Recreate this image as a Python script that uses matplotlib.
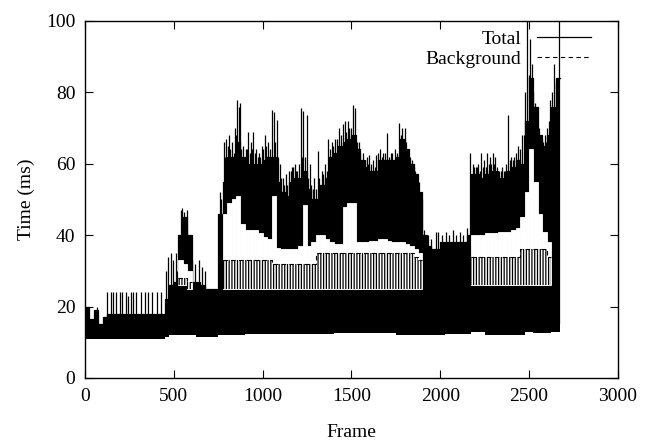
import numpy as np
import matplotlib
matplotlib.use("Agg")
import matplotlib.pyplot as plt

plt.rcParams['font.family'] = ['Liberation Serif', 'DejaVu Serif']
plt.rcParams['hatch.color'] = 'black'
plt.rcParams['hatch.linewidth'] = 0.9

# ---- data (25-frame blocks) ----
block_start = [0, 25, 50, 75, 100, 125, 150, 175, 200, 225, 250, 275, 300, 325, 350, 375, 400, 425,
               450, 475, 500, 525, 550, 575, 600, 625, 650, 675, 700, 725, 750, 775, 800, 825, 850, 875,
               900, 925, 950, 975, 1000, 1025, 1050, 1075, 1100, 1125, 1150, 1175, 1200, 1225, 1250, 1275,
               1300, 1325, 1350, 1375, 1400, 1425, 1450, 1475, 1500, 1525, 1550, 1575, 1600, 1625, 1650,
               1675, 1700, 1725, 1750, 1775, 1800, 1825, 1850, 1875, 1900, 1925, 1950, 1975, 2000, 2025,
               2050, 2075, 2100, 2125, 2150, 2175, 2200, 2225, 2250, 2275, 2300, 2325, 2350, 2375, 2400,
               2425, 2450, 2475, 2500, 2525, 2550, 2575, 2600, 2625, 2650]
last_frame = 2673

total_floor = [10.9, 10.9, 10.9, 10.9, 10.9, 10.9, 10.9, 10.9, 10.9, 10.9, 10.9, 10.9, 10.9, 10.9, 10.9, 10.9, 10.9, 10.9,
               11.5, 12.0, 12.0, 12.0, 12.0, 12.0, 12.0, 11.6, 11.6, 11.6, 11.6, 11.6, 12.1, 12.1, 12.1, 12.1, 12.1, 12.1,
               12.4, 12.4, 12.4, 12.4, 12.4, 12.4, 12.4, 12.4, 12.4, 12.4, 12.4, 12.4, 12.4, 12.4, 12.4, 12.4,
               12.4, 12.4, 12.4, 12.4, 12.6, 12.6, 12.6, 12.6, 12.6, 12.6, 12.6, 12.6, 12.6, 12.6, 12.6,
               12.6, 12.6, 12.6, 12.0, 12.0, 12.0, 12.0, 12.0, 12.0, 12.0, 12.0, 12.0, 12.0, 12.0, 12.2,
               12.2, 12.2, 12.2, 12.2, 12.2, 12.9, 12.9, 12.9, 12.1, 12.1, 12.1, 12.1, 12.1, 12.1, 12.1,
               12.1, 12.1, 13.0, 13.0, 12.5, 12.5, 12.5, 12.5, 13.0, 13.0]

total_body = [20, 16.5, 19, 15, 17, 18, 18, 18, 18, 18, 18, 18, 18, 18, 18, 18, 18, 18,
              22, 26, 27, 40, 45, 40, 27, 27, 26, 25, 25, 25, 46, 55, 62, 62, 66, 62,
              58, 60, 60, 60, 61, 62, 62, 55, 52, 51, 55, 56, 56, 58, 53, 50,
              50, 54, 56, 62, 63, 65, 66, 67, 68, 64, 61, 59, 58, 58, 61,
              61, 61, 61, 62, 67, 64, 60, 57, 52, 40, 37, 36, 36, 38, 38,
              38, 38, 38, 38, 40, 57, 57, 56, 57, 58, 58, 56, 56, 58, 59,
              61, 60, 72, 84, 76, 68, 65, 68, 76, 84]

nan = float('nan')
# top of the solid lower band (where the white gap starts)
gap_low = [nan, nan, nan, nan, nan, nan, nan, nan, nan, nan, nan, nan, nan, nan, nan, nan, nan, nan,
           nan, nan, nan, 26, 26, 25, nan, nan, nan, nan, nan, nan, nan, 25, 25, 25, 25, 25,
           25, 25, 25, 25, 25, 25, 25, 25, 25, 25, 25, 25, 25, 25, 25, 25,
           25, 25, 25, 25, 25, 25, 25, 25, 25, 25, 25, 25, 25, 25, 25,
           25, 25, 25, 25, 25, 25, 25, 25, 25, nan, nan, nan, nan, nan, nan,
           nan, nan, nan, nan, nan, 26, 26, 26, 26, 26, 26, 26, 26, 26, 26,
           26, 26, 26, 26, 26, 26, 26, 26, nan, nan]
# top of the speckled background streaks inside the gap
background_top = [nan, nan, nan, nan, nan, nan, nan, nan, nan, nan, nan, nan, nan, nan, nan, nan, nan, nan,
                  nan, nan, nan, 28, 28, 27, nan, nan, nan, nan, nan, nan, nan, 33, 33, 33, 33, 33,
                  33, 33, 33, 33, 33, 33, 32, 32, 32, 32, 32, 32, 32, 32, 32, 32,
                  35, 35, 35, 35, 35, 35, 35, 35, 35, 35, 35, 35, 35, 35, 35,
                  35, 35, 35, 35, 35, 35, 35, 34, 33, nan, nan, nan, nan, nan, nan,
                  nan, nan, nan, nan, nan, 34, 34, 34, 34, 34, 34, 34, 34, 34, 34,
                  34, 36, 36, 36, 36, 36, 36, 34, nan, nan]
# lower edge of the upper band of the Total series
gap_high = [nan, nan, nan, nan, nan, nan, nan, nan, nan, nan, nan, nan, nan, nan, nan, nan, nan, nan,
            nan, nan, nan, 33, 32, 30, nan, nan, nan, nan, nan, nan, nan, 46, 49, 50, 51, 43,
            41.5, 41.5, 41.5, 40.5, 39.5, 39, 51, 36.5, 36, 36, 36, 36, 37, 48.5, 37, 38,
            40, 40, 39, 38, 37.5, 37.5, 48, 49, 49, 38, 38, 38, 38.5, 38.5, 39,
            39, 38.5, 38, 38, 38, 37.5, 37, 36, 35, nan, nan, nan, nan, nan, nan,
            nan, nan, nan, nan, nan, 40, 40, 40, 40.5, 40.5, 40.5, 41, 41, 41, 41.5,
            42, 45, 52, 64, 55, 46, 41, 38, nan, nan]

spike_frames = [65, 126, 144, 159, 176, 195, 210, 229, 244, 257, 272, 289, 313, 336, 354, 379, 403, 426,
                455, 470, 485, 497, 510, 520, 540, 548, 560, 572, 592, 605, 620, 640, 660, 675,
                758, 765, 785, 795, 810, 830, 845, 858, 866, 872, 888, 905, 919, 935, 947, 965, 980,
                994, 1012, 1030, 1051, 1063, 1079, 1095, 1112, 1130, 1150, 1163, 1180, 1195, 1214,
                1229, 1248, 1265, 1290, 1312, 1335, 1350, 1370, 1390, 1408, 1430, 1450, 1463, 1480,
                1495, 1508, 1520, 1540, 1565, 1585, 1600, 1620, 1640, 1660, 1680, 1700, 1720, 1745,
                1769, 1785, 1801, 1820, 1840, 1860, 1880, 1895, 1910, 1930, 1950, 1975, 1990, 2010,
                2030, 2050, 2070, 2090, 2110, 2130, 2148, 2165, 2185, 2200, 2215, 2230, 2245, 2265,
                2280, 2295, 2310, 2330, 2350, 2365, 2380, 2400, 2415, 2440, 2460, 2470, 2480, 2490,
                2498, 2505, 2515, 2525, 2535, 2550, 2565, 2580, 2595, 2610, 2625, 2640, 2650, 2668,
                # secondary (shorter) spikes along the ragged upper edge
                790, 803, 818, 838, 852, 880, 896, 912, 927, 941, 957, 972, 987, 1003, 1020, 1040,
                1070, 1088, 1104, 1120, 1138, 1157, 1172, 1188, 1205, 1222, 1240, 1257, 1273, 1282,
                1300, 1320, 1342, 1360, 1380, 1398, 1418, 1440, 1470, 1488, 1530, 1550, 1575, 1595,
                1610, 1630, 1650, 1670, 1690, 1710, 1730, 1755, 1777, 1810, 1830, 1850, 1870,
                2192, 2208, 2222, 2238, 2255, 2272, 2288, 2303, 2318, 2340, 2358, 2372, 2390, 2408,
                2425, 2450, 2545, 2558, 2572, 2588, 2603, 2618, 2632]
spike_values = [20, 24, 24, 24, 24, 24, 24, 24, 23, 24, 24, 24, 24, 24, 24, 24, 24, 24,
                30, 34, 35, 33, 35, 30, 47, 47.6, 46.5, 47, 34, 33, 32, 33, 31, 30,
                52, 50, 66, 67, 68, 66, 70, 78, 76, 77, 65, 64, 69, 66, 69, 64, 63,
                65, 68, 66, 75, 74.6, 72.4, 60, 56, 57, 58, 59, 60, 58, 75.5,
                74.7, 73.6, 60, 56, 63.5, 58, 60, 67, 66, 67, 70, 71, 72, 72,
                70, 76.6, 75.7, 66, 63, 62, 62.5, 61, 62.5, 64, 63, 68.5, 63, 64,
                71.3, 70, 70, 63, 61, 58, 55, 50, 41.5, 40, 39, 41, 41, 40,
                41, 40, 41.5, 40, 41, 40, 42, 63, 60, 59, 60, 63, 61, 63,
                62, 63, 62, 58, 59, 58, 73.6, 62, 62, 65, 68, 68, 80, 100,
                85, 95, 88, 80, 77, 68, 67, 66, 66, 72, 75, 88, 83, 100,
                62, 65, 64, 63, 68, 64, 62, 64, 63, 64, 63, 62, 62, 64, 65, 64,
                66, 62, 56, 54, 54, 58, 59, 58, 60, 62, 62, 56, 54, 53,
                53, 56, 57, 58, 64, 65, 67, 68, 69, 70, 66, 63, 61, 60,
                60, 59, 63, 62, 63, 62, 63, 63, 68, 66, 62, 59, 55,
                59, 59, 58, 59, 59, 60, 60, 60, 59, 58, 58, 60, 61, 61,
                63, 64, 72, 70, 67, 68, 70, 78, 80]

x_ticks = [0, 500, 1000, 1500, 2000, 2500, 3000]
y_ticks = [0, 20, 40, 60, 80, 100]

# ---- drawing ----
fig = plt.figure(figsize=(6.49, 4.46), dpi=100)
ax = fig.add_axes([0.131, 0.1525, 0.821, 0.8005])

edges = np.append(np.array(block_start, float), last_frame)
widths = np.diff(edges)
floor = np.array(total_floor, float)
body = np.array(total_body, float)
glo = np.array(gap_low, float)
ghi = np.array(gap_high, float)
bgt = np.array(background_top, float)

ax.fill_between(edges, np.append(floor, floor[-1]), np.append(body, body[-1]),
                step='post', color='black', linewidth=0, zorder=2)
ax.vlines(spike_frames, 15, spike_values, color='black', linewidth=0.9, zorder=2)
ax.step(edges, np.append(body, body[-1]), where='post', color='black', linewidth=0.9,
        zorder=2, label='Total')

ok = np.isfinite(ghi)
ax.bar(edges[:-1][ok], (ghi - glo)[ok], bottom=glo[ok], width=widths[ok], align='edge',
       color='white', edgecolor='white', linewidth=0.6, zorder=3)
okb = np.isfinite(bgt)
ax.bar(edges[:-1][okb], (bgt - glo)[okb], bottom=glo[okb], width=widths[okb], align='edge',
       facecolor='none', edgecolor='black', hatch='||||||', linewidth=0, zorder=4)
ax.step(edges, np.append(bgt, bgt[-1]), where='post', color='black', linewidth=0.8,
        linestyle=(0, (4, 3)), zorder=5, label='Background')

ax.set_xlim(0, 3000)
ax.set_ylim(0, 100)
ax.set_xticks(x_ticks)
ax.set_yticks(y_ticks)
ax.tick_params(direction='in', length=5.5, width=0.8, top=True, right=True,
               labelsize=14, pad=7)
for s in ax.spines.values():
    s.set_linewidth(1.0)
ax.set_xlabel('Frame', fontsize=14, labelpad=14)
ax.set_ylabel('Time (ms)', fontsize=14, labelpad=8)

leg = ax.legend(loc='upper right', bbox_to_anchor=(0.957, 0.985), frameon=False,
                markerfirst=False, fontsize=14, handlelength=2.8, handletextpad=0.8,
                labelspacing=0.12, borderaxespad=0, borderpad=0.2)

fig.savefig('out.png', dpi=100)
